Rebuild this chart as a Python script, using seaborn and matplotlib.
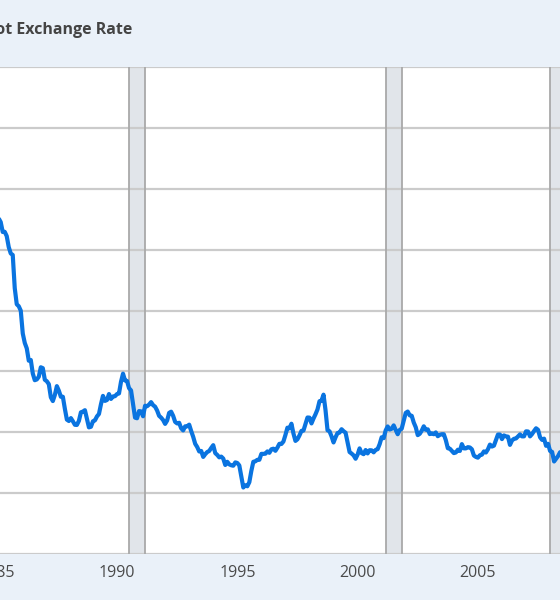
import numpy as np
import pandas as pd
import seaborn as sns
import matplotlib.pyplot as plt

# monthly yen per US dollar, Jan 1985 onward
start = "1985-01-01"
rate = [
    254.2, 260.5, 258.1, 251.6, 251.7, 248.9, 241.7, 237.5, 236.5, 214.7, 204.1, 202.8,  # 1985
    199.9, 184.9, 178.7, 175.1, 167.0, 167.5, 158.6, 154.2, 154.7, 156.5, 162.7, 162.1,  # 1986
    154.5, 153.5, 151.6, 143.0, 140.5, 144.5, 150.3, 147.3, 143.3, 143.3, 135.4, 128.3,  # 1987
    127.4, 129.3, 127.2, 124.9, 124.8, 127.5, 133.1, 133.6, 134.5, 128.8, 123.2, 123.6,  # 1988
    127.2, 127.8, 130.4, 132.0, 138.4, 143.9, 140.6, 141.2, 145.1, 141.9, 143.5, 143.7,  # 1989
    145.1, 145.5, 153.2, 158.5, 154.0, 153.7, 149.0, 147.5, 138.4, 129.6, 129.2, 133.9,  # 1990
    133.7, 130.5, 137.4, 137.1, 138.2, 139.8, 137.8, 136.8, 134.3, 130.8, 129.6, 128.0,  # 1991
    125.5, 127.7, 132.7, 133.5, 130.8, 126.8, 125.8, 126.2, 122.6, 121.2, 123.9, 123.9,  # 1992
    125.0, 120.8, 117.0, 112.4, 110.3, 107.4, 107.7, 103.8, 105.6, 107.0, 107.7, 109.7,  # 1993
    111.5, 106.3, 105.1, 103.5, 104.0, 102.7, 98.5, 100.6, 98.9, 98.3, 98.0, 100.2,      # 1994
    99.8, 98.2, 90.8, 83.7, 85.2, 84.5, 87.2, 94.6, 100.6, 100.9, 101.9, 101.9,          # 1995
    105.8, 105.8, 105.9, 107.4, 106.5, 108.8, 109.2, 107.8, 109.9, 112.4, 112.3, 113.9,  # 1996
    118.2, 123.0, 122.6, 125.6, 119.2, 114.3, 115.4, 117.9, 120.9, 121.1, 125.4, 129.7,  # 1997
    129.6, 125.8, 129.0, 131.8, 135.0, 140.4, 140.7, 144.7, 134.5, 121.3, 120.6, 117.3,  # 1998
    113.3, 116.7, 119.5, 119.8, 122.0, 120.7, 119.7, 113.2, 107.0, 106.0, 104.8, 102.6,  # 1999
    105.3, 109.4, 106.3, 105.6, 108.3, 106.1, 108.2, 108.1, 106.8, 108.4, 108.9, 112.2,  # 2000
    116.7, 116.1, 121.2, 123.8, 121.8, 122.3, 124.5, 121.5, 118.7, 121.5, 122.4, 127.6,  # 2001
    132.7, 133.6, 131.1, 130.8, 126.4, 123.3, 118.1, 119.0, 121.1, 123.9, 121.6, 121.9,  # 2002
    118.8, 119.3, 118.7, 119.9, 117.4, 118.3, 118.7, 118.7, 114.8, 109.5, 109.2, 107.7,  # 2003
    106.3, 106.7, 108.5, 107.7, 112.2, 109.4, 109.4, 110.2, 110.0, 108.8, 104.7, 103.8,  # 2004
    103.3, 104.9, 105.3, 107.4, 106.7, 108.8, 111.9, 110.6, 111.2, 114.9, 118.5, 118.5,  # 2005
    115.5, 117.9, 117.3, 117.1, 111.7, 114.6, 115.7, 115.9, 117.2, 118.6, 117.3, 117.3,  # 2006
    120.6, 120.5, 117.3, 118.8, 120.8, 122.6, 121.6, 116.7, 115.0, 115.8, 111.1, 112.4,  # 2007
    107.7, 107.1, 100.8, 102.6, 104.4, 106.9, 106.9, 109.4,                              # 2008
]

# recessions (decimal years)
rec_start = [1990.5, 2001.167, 2008.0]
rec_end = [1991.167, 2001.833, 2009.5]

title = "Japanese Yen to U.S. Dollar Spot Exchange Rate"
year_ticks = [1985, 1990, 1995, 2000, 2005]
y_grid = [40, 80, 120, 160, 200, 240, 280, 320, 360]

dates = pd.date_range(start, periods=len(rate), freq="MS")
df = pd.DataFrame({"year": dates.year + (dates.month - 1) / 12, "rate": rate})

sns.set_style("white")
plt.rcParams["font.family"] = ["Open Sans", "DejaVu Sans"]

bg = "#eaf1f9"
fig = plt.figure(figsize=(5.6, 6), dpi=100, facecolor=bg)

# axes runs a little past the left/right edges, like a cropped screenshot
px = lambda v: v / 560
ax = fig.add_axes([px(-20), (600 - 554) / 600, px(600), (554 - 67) / 600])
ax.set_facecolor("white")

for s, e in zip(rec_start, rec_end):
    ax.axvspan(s, e, color="#e1e5ea", lw=0, zorder=0.2)
    ax.axvline(s, color="#a9a9a9", lw=1.3, zorder=0.8)
    ax.axvline(e, color="#a9a9a9", lw=1.3, zorder=0.8)

ax.set_yticks(y_grid)
ax.set_yticklabels([])
ax.set_axisbelow(True)
ax.yaxis.grid(True, color="#cbcbcb", lw=1.6)
ax.tick_params(axis="y", length=0)

sns.lineplot(data=df, x="year", y="rate", color="#0a74e0", lw=3.0, ax=ax, zorder=3)

ax.set_xticks(year_ticks)
ax.set_xticklabels([str(y) for y in year_ticks], fontsize=11.5, color="#4a4a4a")
ax.tick_params(axis="x", length=6, width=1, color="#c3d1e2", pad=2)
ax.set_xlabel("")
ax.set_ylabel("")
for sp in ax.spines.values():
    sp.set_visible(False)

# limits last so tick setting cannot widen them
x0 = 1990 + (-20 - 117) / 24.06
x1 = 1990 + (580 - 117) / 24.06
ax.set_xlim(x0, x1)
ax.set_ylim(40, 360)

fig.text(px(133), 1 - 30 / 600, title, ha="right", va="center",
         fontsize=11.5, fontweight="bold", color="#444444", family=["Open Sans", "DejaVu Sans"])

fig.savefig("out.png", dpi=100, facecolor=bg)
